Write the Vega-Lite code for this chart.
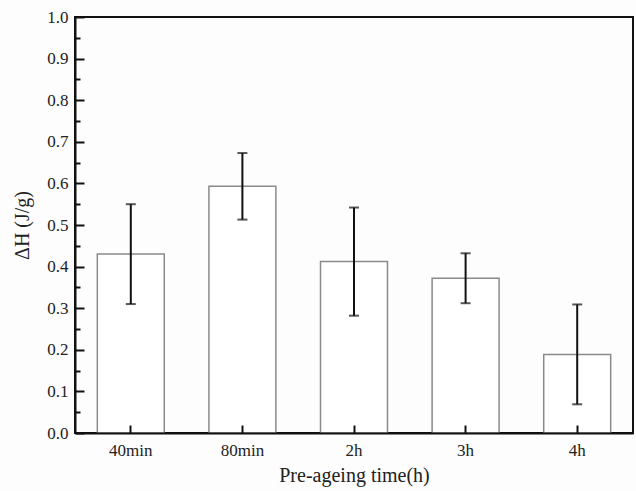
{
  "$schema": "https://vega.github.io/schema/vega-lite/v6.json",
  "width": 558,
  "height": 416,
  "autosize": {"type": "none"},
  "padding": {"left": 75, "top": 17, "right": 3, "bottom": 58},
  "background": "#fdfdfd",
  "config": {
    "font": "Liberation Serif",
    "view": {"stroke": "#111", "strokeWidth": 2},
    "axis": {"labelFont": "Liberation Serif", "titleFont": "Liberation Serif", "labelColor": "#222", "titleColor": "#222", "domainColor": "#111", "domainWidth": 2, "tickColor": "#111", "tickWidth": 2, "grid": false, "titleFontWeight": "normal"}
  },
  "resolve": {"axis": {"x": "independent", "y": "independent"}},
  "data": {"values": [
    {"time": "40min", "dH": 0.430, "lo": 0.310, "hi": 0.550},
    {"time": "80min", "dH": 0.593, "lo": 0.513, "hi": 0.673},
    {"time": "2h", "dH": 0.412, "lo": 0.282, "hi": 0.542},
    {"time": "3h", "dH": 0.372, "lo": 0.312, "hi": 0.432},
    {"time": "4h", "dH": 0.189, "lo": 0.069, "hi": 0.309}
  ]},
  "layer": [
    {
      "mark": {"type": "bar", "fill": "white", "stroke": "#8a8a8a", "strokeWidth": 1.5},
      "encoding": {
        "x": {"field": "time", "type": "nominal", "sort": null,
          "scale": {"paddingInner": 0.4, "paddingOuter": 0.2},
          "axis": {"orient": "bottom", "offset": -8, "ticks": true, "tickSize": 8, "labels": false, "domain": false, "title": null, "zindex": 3}},
        "y": {"field": "dH", "type": "quantitative",
          "scale": {"domain": [0, 1], "nice": false},
          "axis": {"orient": "left", "title": "ΔH (J/g)", "titleFontSize": 20, "labelFontSize": 17,
            "values": [0,0.1,0.2,0.3,0.4,0.5,0.6,0.7,0.8,0.9,1.0], "format": ".1f",
            "ticks": false, "labelPadding": 7, "titlePadding": 14, "zindex": 2}}
      }
    },
    {
      "mark": {"type": "rule", "color": "#111", "strokeWidth": 2},
      "encoding": {
        "x": {"field": "time", "type": "nominal", "sort": null,
          "axis": {"orient": "bottom", "title": "Pre-ageing time(h)", "labelAngle": 0, "labelFontSize": 17, "titleFontSize": 20, "ticks": false, "labelPadding": 9, "titlePadding": 7, "zindex": 2}},
        "y": {"field": "lo", "type": "quantitative",
          "axis": {"orient": "left", "offset": -9, "tickSize": 9, "labels": false, "domain": false, "title": null, "zindex": 3,
            "values": [0,0.1,0.2,0.3,0.4,0.5,0.6,0.7,0.8,0.9,1.0]}},
        "y2": {"field": "hi"}
      }
    },
    {
      "mark": {"type": "tick", "color": "#111", "thickness": 2, "size": 10},
      "encoding": {
        "x": {"field": "time", "type": "nominal", "sort": null, "axis": null},
        "y": {"field": "lo", "type": "quantitative",
          "axis": {"orient": "left", "offset": -5, "tickSize": 5, "labels": false, "domain": false, "title": null, "zindex": 3,
            "values": [0.05,0.15,0.25,0.35,0.45,0.55,0.65,0.75,0.85,0.95]}}
      }
    },
    {
      "mark": {"type": "tick", "color": "#111", "thickness": 2, "size": 10},
      "encoding": {
        "x": {"field": "time", "type": "nominal", "sort": null, "axis": null},
        "y": {"field": "hi", "type": "quantitative", "axis": null}
      }
    }
  ]
}
